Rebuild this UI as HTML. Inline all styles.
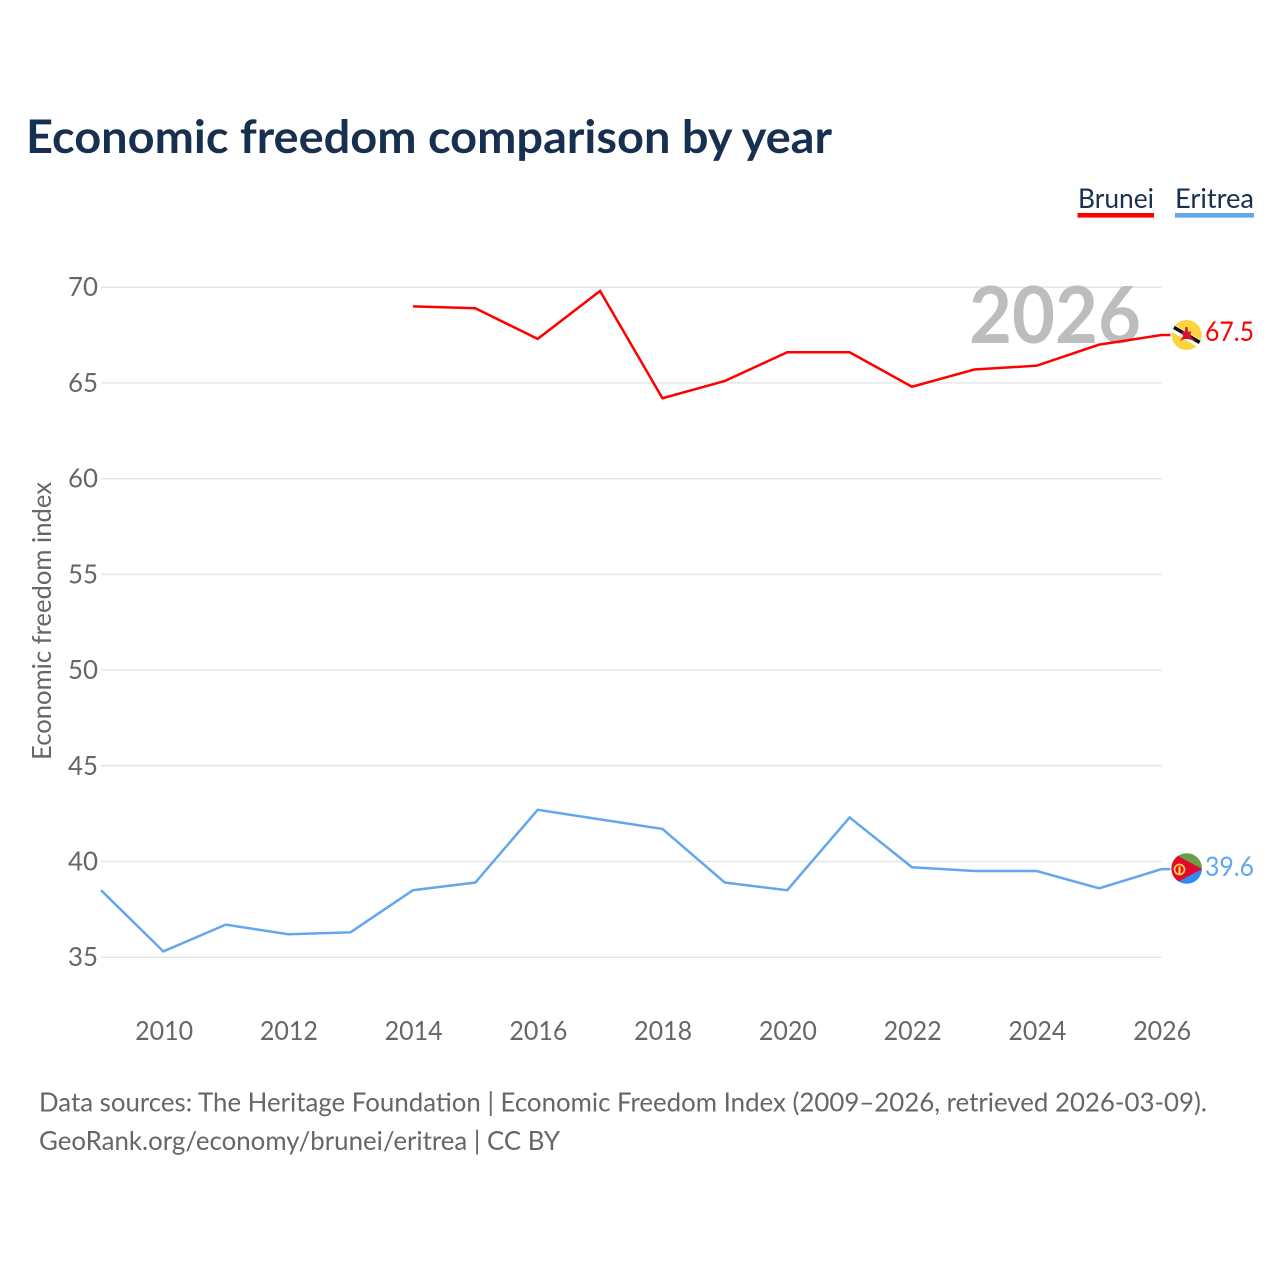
<!DOCTYPE html>
<html lang="en">
<head>
<meta charset="utf-8">
<title>Economic freedom comparison by year</title>
<style>
html,body{margin:0;padding:0;background:#fff;}
svg{display:block;}
text{font-family:"Lato","Carlito","Liberation Sans",sans-serif;}
</style>
</head>
<body>
<svg id="chart" xmlns="http://www.w3.org/2000/svg" width="1280" height="1280" viewBox="0 0 1280 1280">
  <rect width="1280" height="1280" fill="#ffffff"/>
  <text x="26" y="153" font-size="46" font-weight="700" fill="#18304f" textLength="806" lengthAdjust="spacingAndGlyphs">Economic freedom comparison by year</text>

  <g>
    <text x="1078" y="208" font-size="27" fill="#18304f" textLength="76" lengthAdjust="spacingAndGlyphs">Brunei</text>
    <rect x="1077.5" y="213" width="76.5" height="4.6" fill="#ff0000"/>
  </g>
  <g>
    <text x="1175" y="208" font-size="27" fill="#18304f" textLength="79" lengthAdjust="spacingAndGlyphs">Eritrea</text>
    <rect x="1175" y="213" width="79" height="4.6" fill="#62a6ee"/>
  </g>

  <g id="grid"></g>
  <g id="yticks"></g>
  <g id="xticks"></g>

  <text transform="translate(51,621) rotate(-90)" text-anchor="middle" font-size="26" fill="#666666" textLength="278" lengthAdjust="spacingAndGlyphs">Economic freedom index</text>

  <text x="1141" y="343" text-anchor="end" font-size="79" font-weight="700" fill="#bdbdbd" textLength="172" lengthAdjust="spacingAndGlyphs">2026</text>

  <g id="series"></g>

  <g id="flag-brunei">
    <clipPath id="clip-brunei"><circle cx="1186.7" cy="335" r="15"/></clipPath>
    <g clip-path="url(#clip-brunei)">
      <rect x="1170" y="318" width="34" height="34" fill="#fdd43f"/>
      <path d="M1169 326 L1205 347" stroke="#ffffff" stroke-width="7.5" fill="none"/>
      <path d="M1169 324.5 L1205 345.5" stroke="#111111" stroke-width="3.6" fill="none"/>
      <path d="M1185.5 327 L1187.5 327 L1188 332 L1191 331 L1190.5 336 L1195 341 L1188 339 L1184 339 L1180 341 L1183 336 L1182 331 L1185 332 Z" fill="#d8122d"/>
    </g>
  </g>
  <g id="flag-eritrea">
    <clipPath id="clip-eritrea"><circle cx="1186.7" cy="868.5" r="15.3"/></clipPath>
    <g clip-path="url(#clip-eritrea)">
      <rect x="1170" y="852" width="34" height="17" fill="#689f45"/>
      <rect x="1170" y="869" width="34" height="17" fill="#2f8bf0"/>
      <path d="M1170 851.5 L1202 869 L1170 886 Z" fill="#e4082d"/>
      <circle cx="1179.5" cy="869.5" r="5" fill="none" stroke="#fdd43f" stroke-width="1.8"/>
      <rect x="1178.4" y="866.5" width="2.2" height="7" fill="#fdd43f"/>
    </g>
  </g>

  <text x="1205" y="341" font-size="27" fill="#ff0000" textLength="49" lengthAdjust="spacingAndGlyphs">67.5</text>
  <text x="1205" y="876" font-size="27" fill="#62a6ee" textLength="49" lengthAdjust="spacingAndGlyphs">39.6</text>

  <text x="39" y="1111.5" font-size="26.5" fill="#666666" textLength="1168" lengthAdjust="spacingAndGlyphs">Data sources: The Heritage Foundation | Economic Freedom Index (2009–2026, retrieved 2026-03-09).</text>
  <text x="39" y="1150" font-size="26.5" fill="#666666" textLength="521" lengthAdjust="spacingAndGlyphs">GeoRank.org/economy/brunei/eritrea | CC BY</text>
</svg>
<script>
const yearsBrunei = [2014, 2015, 2016, 2017, 2018, 2019, 2020, 2021, 2022, 2023, 2024, 2025, 2026];
const valuesBrunei = [69.0, 68.9, 67.3, 69.8, 64.2, 65.1, 66.6, 66.6, 64.8, 65.7, 65.9, 67.0, 67.5];
const yearsEritrea = [2009, 2010, 2011, 2012, 2013, 2014, 2015, 2016, 2017, 2018, 2019, 2020, 2021, 2022, 2023, 2024, 2025, 2026];
const valuesEritrea = [38.5, 35.3, 36.7, 36.2, 36.3, 38.5, 38.9, 42.7, 42.2, 41.7, 38.9, 38.5, 42.3, 39.7, 39.5, 39.5, 38.6, 39.6];
const yTickLabels = [35, 40, 45, 50, 55, 60, 65, 70];
const xTickLabels = [2010, 2012, 2014, 2016, 2018, 2020, 2022, 2024, 2026];

const NS = 'http://www.w3.org/2000/svg';
function xScale(year) { return 101 + (year - 2009) * (1161.5 - 101) / 17; }
function yScale(value) { return 957.2 - (value - 35) * (957.2 - 287.2) / 35; }

const grid = document.getElementById('grid');
const yticks = document.getElementById('yticks');
const xticks = document.getElementById('xticks');
const series = document.getElementById('series');

yTickLabels.forEach(function (v) {
  const line = document.createElementNS(NS, 'line');
  line.setAttribute('x1', 101);
  line.setAttribute('x2', 1161.5);
  line.setAttribute('y1', yScale(v));
  line.setAttribute('y2', yScale(v));
  line.setAttribute('stroke', '#e6e6e6');
  line.setAttribute('stroke-width', '1.5');
  
  
  grid.appendChild(line);

  const t = document.createElementNS(NS, 'text');
  t.setAttribute('x', 98);
  t.setAttribute('y', yScale(v) + 9);
  t.setAttribute('text-anchor', 'end');
  t.setAttribute('font-size', '26.5');
  t.setAttribute('fill', '#666666');
  t.setAttribute('textLength', '30');
  t.setAttribute('lengthAdjust', 'spacingAndGlyphs');
  
  
  t.textContent = v;
  yticks.appendChild(t);
});

xTickLabels.forEach(function (y) {
  const t = document.createElementNS(NS, 'text');
  t.setAttribute('x', xScale(y) + 0.7);
  t.setAttribute('y', 1040);
  t.setAttribute('text-anchor', 'middle');
  t.setAttribute('font-size', '26.5');
  t.setAttribute('fill', '#666666');
  t.setAttribute('textLength', '58');
  t.setAttribute('lengthAdjust', 'spacingAndGlyphs');
  
  
  t.textContent = y;
  xticks.appendChild(t);
});

function pointsFor(years, values) {
  const pts = years.map(function (y, i) { return xScale(y) + ',' + yScale(values[i]); });
  pts.push((xScale(years[years.length - 1]) + 9) + ',' + yScale(values[values.length - 1]));
  return pts.join(' ');
}

const lineBrunei = document.createElementNS(NS, 'polyline');
lineBrunei.setAttribute('points', pointsFor(yearsBrunei, valuesBrunei));
lineBrunei.setAttribute('fill', 'none');
lineBrunei.setAttribute('stroke', '#ff0000');
lineBrunei.setAttribute('stroke-width', '2.5');


series.appendChild(lineBrunei);

const lineEritrea = document.createElementNS(NS, 'polyline');
lineEritrea.setAttribute('points', pointsFor(yearsEritrea, valuesEritrea));
lineEritrea.setAttribute('fill', 'none');
lineEritrea.setAttribute('stroke', '#62a6ee');
lineEritrea.setAttribute('stroke-width', '2.5');


series.appendChild(lineEritrea);
</script>
</body>
</html>
